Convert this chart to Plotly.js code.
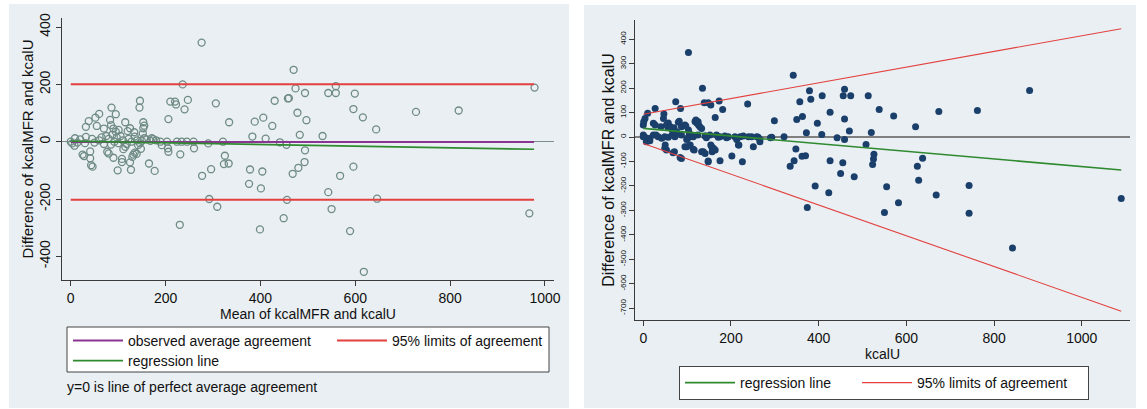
<!DOCTYPE html>
<html><head><meta charset="utf-8">
<script src="https://cdn.plot.ly/plotly-3.0.1.min.js"></script>
<style>html,body{margin:0;padding:0;background:#fff;}#chart{width:1147px;height:409px;}</style>
</head><body><div id="chart"></div>
<script>
// ---------- Left panel: mean of kcalMFR and kcalU vs difference ----------
const meanKcal = [0,3,8,9,14,20,32,32,38,52,55,60,70,83,85,86,90,95,95,101,115,120,125,134,145,146,152,153,153,155,155,171,174,
  30,45,50,60,65,70,75,80,85,88,92,97,100,105,110,118,122,128,135,140,142,150,160,168,180,189,203,224,234,245,259,290,321,
  25,28,41,41,43,46,77,80,90,99,108,108,111,115,125,127,130,132,139,135,148,146,165,177,192,205,206,231,260,277,296,
  206,210,220,222,236,240,247,276,306,334,
  292,309,325,323,333,378,376,401,404,383,388,406,411,425,430,458,441,455,456,470,474,460,494,543,559,559,599,478,497,596,616,644,728,818,978,483,531,494,493,480,468,596,568,543,646,550,230,399,449,589,618,967];
const diffLeft = [0,-6,-14,12,-3,8,17,52,72,84,55,97,46,76,58,119,46,96,35,41,68,37,47,33,119,143,29,68,47,56,12,12,9,
  -5,10,-3,5,15,-8,20,10,-10,25,0,15,-5,20,5,-8,10,0,18,5,-12,3,8,3,5,0,0,0,0,0,0,-6,0,
  -45,-50,-34,-58,-82,-87,-35,-41,-56,-100,-60,-71,-26,-18,-72,-98,-53,-45,-42,-38,-25,-6,-76,-102,-12,-23,-35,-44,-23,-119,-96,
  79,140,140,130,200,113,146,346,134,68,
  -200,-227,-49,-78,-76,-97,-147,-163,-104,18,70,84,11,55,143,151,-2,-11,-203,251,186,152,170,170,194,170,168,101,75,114,85,43,104,109,189,24,20,-30,-71,-91,-112,-87,-119,-176,-199,-235,-290,-306,-267,-312,-454,-250];

const leftLineX = [0, 977];
const observedAverage = [-1, -1];
const leftUpperLimit = [200.5, 200.5];
const leftLowerLimit = [-202.5, -202.5];
const leftRegression = [2, -26.5];

// ---------- Right panel: kcalU vs difference ----------
const kcalU = [0,1,4,10,0,0,4,7,15,15,23,23,27,27,34,40,42,46,47,49,49,53,53,57,57,61,66,66,71,72,74,76,80,84,87,85,87,87,95,99,103,103,107,114,116,118,122,124,126,129,133,133,135,139,141,141,148,148,152,154,156,157,160,164,164,167,173,175,175,181,186,194,202,209,218,221,226,228,238,240,247,251,259,266,266,293,299,321,
  56,70,82,97,120,125,154,158,68,137,148,29,99,101,105,110,142,144,171,190,213,217,262,50,114,95,
  103,
  342,357,379,382,408,363,350,397,372,426,407,442,459,456,473,459,470,459,513,520,290,
  335,344,348,362,370,392,423,426,374,450,455,481,508,526,525,523,
  538,571,674,762,881,621,637,625,628,555,668,743,582,550,743,842,1090];
const diffRight = [49,63,76,97,1,8,-1,-19,-15,-5,8,56,117,49,1,42,-5,76,94,1,-46,50,-53,57,-1,43,29,8,-60,1,144,22,60,-84,-88,117,42,8,49,-40,29,-1,-33,1,-53,64,57,8,49,42,35,-60,199,140,4,-67,140,-101,8,131,-40,-60,-46,-53,80,8,147,1,-97,113,4,1,-78,1,-33,1,-101,4,135,1,1,-40,1,-10,-19,-1,67,1,
  40,38,65,45,70,63,-33,-50,-64,-60,-98,8,-10,-5,15,4,4,-3,-1,-3,-10,-33,-1,-33,-50,-40,
  346,
  253,144,189,154,169,84,72,56,18,101,10,-3,195,169,169,74,25,-10,169,19,-3,
  -119,-97,-49,-79,-76,-200,-228,-97,-288,-149,-105,-162,-30,-70,-90,-112,
  113,86,104,109,190,42,-87,-119,-177,-203,-237,-198,-269,-308,-312,-454,-251];

const rightLineX = [0, 1090];
const rightRegression = [35.5, -135];
const rightUpperLimit = [93, 443];
const rightLowerLimit = [-26, -712];

const leftXTicks = [0, 200, 400, 600, 800, 1000];
const leftYTicks = [-400, -200, 0, 200, 400];
const rightXTicks = [0, 200, 400, 600, 800, 1000];
const rightYTicks = [-700, -600, -500, -400, -300, -200, -100, 0, 100, 200, 300, 400];

const legendLabels = ['observed average agreement', '95% limits of agreement', 'regression line'];

// ---------- styling ----------
const W = 1147, H = 409;
const FONT = 'Liberation Sans, Arial, sans-serif';
const px = v => v / W;
const py = v => 1 - v / H;
const RED = '#e3413f', GREEN = '#2f8a2f', PURPLE = '#8a3591';
const PANEL = '#e9eff2', GRID = '#e8eef1', AXIS = '#3a3a3a';
const label = v => String(v); // hyphen-minus as in the reference

const traces = [
  {x: meanKcal, y: diffLeft, xaxis: 'x', yaxis: 'y', type: 'scatter', mode: 'markers', showlegend: false,
   marker: {symbol: 'circle-open', size: 7, color: '#6f8b84', line: {width: 1.3, color: '#6f8b84'}}},
  {x: leftLineX, y: observedAverage, xaxis: 'x', yaxis: 'y', mode: 'lines', name: legendLabels[0], legend: 'legend',
   line: {color: PURPLE, width: 2}},
  {x: leftLineX, y: leftUpperLimit, xaxis: 'x', yaxis: 'y', mode: 'lines', name: legendLabels[1], legend: 'legend',
   line: {color: RED, width: 2}},
  {x: leftLineX, y: leftLowerLimit, xaxis: 'x', yaxis: 'y', mode: 'lines', showlegend: false,
   line: {color: RED, width: 2}},
  {x: leftLineX, y: leftRegression, xaxis: 'x', yaxis: 'y', mode: 'lines', name: legendLabels[2], legend: 'legend2',
   line: {color: GREEN, width: 1.6}},

  {x: kcalU, y: diffRight, xaxis: 'x2', yaxis: 'y2', type: 'scatter', mode: 'markers', showlegend: false,
   marker: {symbol: 'circle', size: 7, color: '#1b3f6b'}},
  {x: rightLineX, y: rightRegression, xaxis: 'x2', yaxis: 'y2', mode: 'lines', name: legendLabels[2], legend: 'legend3',
   legendwidth: 112, line: {color: GREEN, width: 1.6}},
  {x: rightLineX, y: rightUpperLimit, xaxis: 'x2', yaxis: 'y2', mode: 'lines', name: legendLabels[1], legend: 'legend3',
   legendwidth: 166, line: {color: RED, width: 1.1}},
  {x: rightLineX, y: rightLowerLimit, xaxis: 'x2', yaxis: 'y2', mode: 'lines', showlegend: false,
   line: {color: RED, width: 1.1}}
];

const axisCommon = {
  showline: true, linecolor: AXIS, linewidth: 1, mirror: false,
  ticks: 'outside', ticklen: 5, tickwidth: 1, tickcolor: AXIS,
  tickfont: {family: FONT, size: 14, color: '#111'},
  showgrid: false, zeroline: false, fixedrange: true, tickmode: 'array'
};

const legendCommon = {
  orientation: 'h', xanchor: 'left', yanchor: 'top',
  font: {family: FONT, size: 14, color: '#111'},
  itemwidth: 50, tracegroupgap: 0, entrywidthmode: 'pixels'
};

const layout = {
  width: W, height: H,
  margin: {l: 0, r: 0, t: 0, b: 0},
  paper_bgcolor: '#ffffff', plot_bgcolor: '#ffffff',
  showlegend: true, hovermode: false,
  xaxis: Object.assign({}, axisCommon, {
    domain: [px(62), px(554)], range: [-18.4, 1019], anchor: 'y',
    tickvals: leftXTicks, ticktext: leftXTicks.map(label),
    title: {text: 'Mean of kcalMFR and kcalU', font: {family: FONT, size: 14, color: '#111'}, standoff: 2}
  }),
  yaxis: Object.assign({}, axisCommon, {
    domain: [py(280), py(18)], range: [-482.7, 431.8], anchor: 'x',
    tickvals: leftYTicks, ticktext: leftYTicks.map(label), tickangle: -90,
    showgrid: true, gridcolor: GRID, gridwidth: 1,
    zeroline: true, zerolinecolor: '#7d8f8f', zerolinewidth: 1.5,
    title: {text: 'Difference of kcalMFR and kcalU', font: {family: FONT, size: 15, color: '#111'}, standoff: 0}
  }),
  xaxis2: Object.assign({}, axisCommon, {
    domain: [px(635), px(1130)], range: [-18.9, 1110], anchor: 'y2',
    tickvals: rightXTicks, ticktext: rightXTicks.map(label),
    title: {text: 'kcalU', font: {family: FONT, size: 14, color: '#111'}, standoff: 0}
  }),
  yaxis2: Object.assign({}, axisCommon, {
    domain: [py(320), py(20)], range: [-748, 478.5], anchor: 'x2',
    tickvals: rightYTicks, ticktext: rightYTicks.map(label), tickangle: -90,
    tickfont: {family: FONT, size: 8, color: '#111'},
    showgrid: true, gridcolor: GRID, gridwidth: 1,
    zeroline: true, zerolinecolor: '#808080', zerolinewidth: 1.5,
    title: {text: 'Difference of kcalMFR and kcalU', font: {family: FONT, size: 16, color: '#111'}, standoff: 0}
  }),
  legend: Object.assign({}, legendCommon, {
    x: px(68), y: py(325), entrywidth: 199, bgcolor: 'rgba(0,0,0,0)', borderwidth: 0
  }),
  legend2: Object.assign({}, legendCommon, {
    x: px(68), y: py(345), entrywidth: 199, bgcolor: 'rgba(0,0,0,0)', borderwidth: 0
  }),
  legend3: Object.assign({}, legendCommon, {
    x: px(679), y: py(366), bgcolor: '#ffffff', bordercolor: '#444', borderwidth: 1
  }),
  shapes: [
    {type: 'rect', xref: 'paper', yref: 'paper', x0: px(9), x1: px(569), y0: py(408), y1: py(4),
     fillcolor: PANEL, line: {width: 0}, layer: 'below'},
    {type: 'rect', xref: 'paper', yref: 'paper', x0: px(584), x1: px(1136), y0: py(408), y1: py(5),
     fillcolor: PANEL, line: {width: 0}, layer: 'below'},
    {type: 'rect', xref: 'paper', yref: 'paper', x0: px(67), x1: px(549), y0: py(372), y1: py(327),
     fillcolor: '#ffffff', line: {width: 1, color: '#444'}, layer: 'below'}
  ],
  annotations: [
    {xref: 'paper', yref: 'paper', x: px(65), y: py(387), xanchor: 'left', yanchor: 'middle', showarrow: false,
     text: 'y=0 is line of perfect average agreement', font: {family: FONT, size: 14, color: '#111'}}
  ]
};

Plotly.newPlot('chart', traces, layout, {staticPlot: true, displayModeBar: false});
</script></body></html>
